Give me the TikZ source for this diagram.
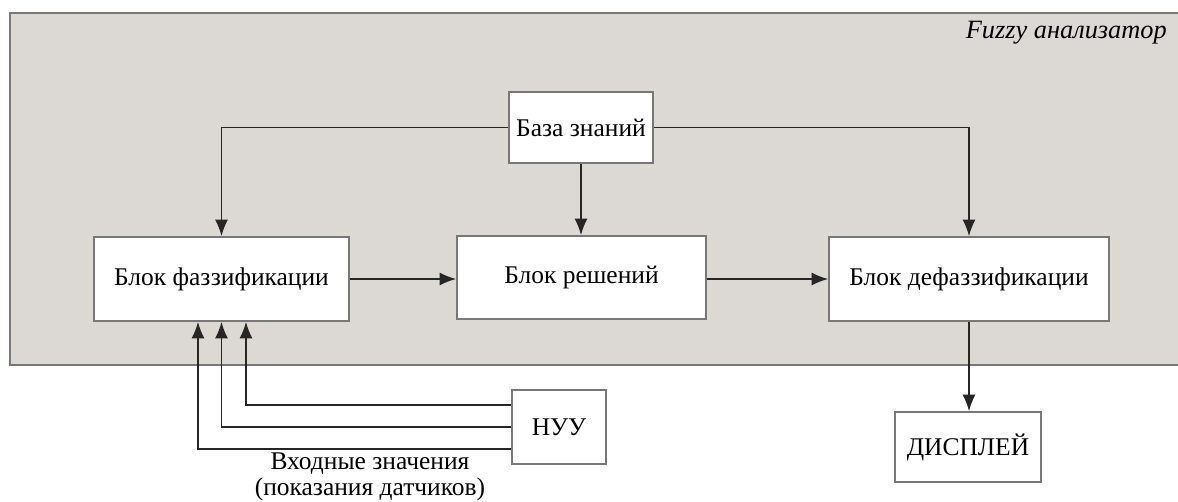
\documentclass[tikz,border=0pt]{standalone}
\usepackage{fontspec}
\setmainfont{Liberation Serif}
\usetikzlibrary{arrows.meta,calc}
\definecolor{panelgray}{RGB}{220,217,213}
\definecolor{framegray}{RGB}{120,120,120}
\tikzset{
  block/.style={draw=framegray,line width=0.9pt,fill=white,inner sep=0pt,
    font=\fontsize{14.5}{17}\selectfont},
  arr/.style={draw=black!85,line width=1pt,-{Latex[length=9.5pt,width=7.5pt]}}
}
\begin{document}
\begin{tikzpicture}[x=0.02cm,y=-0.02cm]
      \useasboundingbox (0,0) rectangle (1178,501);
      % analyzer panel
      \draw[fill=panelgray,draw=framegray,line width=1.1pt] (10,13) rectangle (1185,365);
      \node[anchor=base east,font=\fontsize{15}{17}\selectfont\itshape] (title) at (1173,38) {Fuzzy анализатор};
      \draw
        (581,127.5) node[block,minimum width=144*0.02cm,minimum height=71*0.02cm] (base){База знаний}
        (221.5,279) node[block,minimum width=255*0.02cm,minimum height=84*0.02cm] (fuzz){Блок фаззификации}
        (581.5,277.5) node[block,minimum width=249*0.02cm,minimum height=83*0.02cm] (rule){Блок решений}
        (969,279) node[block,minimum width=280*0.02cm,minimum height=84*0.02cm] (defuzz){Блок дефаззификации}
        (559,427) node[block,minimum width=94*0.02cm,minimum height=74*0.02cm] (nuu){НУУ}
        (968,447) node[block,minimum width=146*0.02cm,minimum height=70*0.02cm] (disp){ДИСПЛЕЙ};
      \node[align=center,font=\fontsize{14.5}{14.5}\selectfont] (inlabel) at (370,477)
        {Входные значения\\(показания датчиков)};
      \begin{scope}
        \draw[arr] (base.west) -| (fuzz.north);
        \draw[arr] (base.south) to (base.south |- rule.north);
        \draw[arr] (base.east) -| (defuzz.north);
        \draw[arr] (fuzz.east) to (fuzz.east -| rule.west);
        \draw[arr] (rule.east |- defuzz.west) to (defuzz.west);
        \draw[arr] (defuzz.south) to (defuzz.south |- disp.north);
        \draw[arr] (nuu.west) ++(0,-22) -| ($(fuzz.south)+(24.5,0)$);
        \draw[arr] (nuu.west) -| (fuzz.south);
        \draw[arr] (nuu.west) ++(0,22) -| ($(fuzz.south)+(-23.5,0)$);
      \end{scope}
    \end{tikzpicture}
\end{document}
